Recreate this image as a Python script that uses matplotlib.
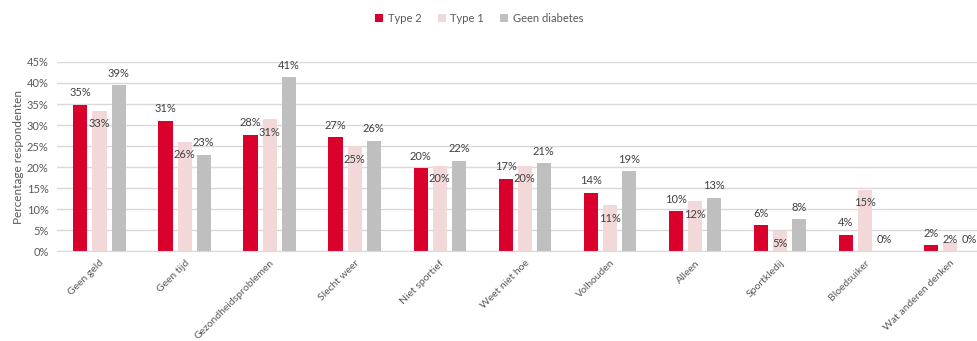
import matplotlib.pyplot as plt
import numpy as np
from matplotlib.ticker import FuncFormatter

categories = [
    "Geen geld", "Geen tijd", "Gezondheidsproblemen", "Slecht weer", "Niet sportief",
    "Weet niet hoe", "Volhouden", "Alleen", "Sportkledij", "Bloedsuiker",
    "Wat anderen denken",
]
type2 = [34.8, 31.0, 27.7, 27.1, 19.8, 17.3, 13.9, 9.6, 6.2, 4.0, 1.5]
type1 = [33.4, 26.1, 31.4, 25.0, 20.3, 20.3, 11.0, 11.9, 4.9, 14.7, 2.2]
geen = [39.4, 23.0, 41.4, 26.3, 21.5, 21.0, 19.0, 12.7, 7.6, 0.0, 0.0]

RED = "#d9002b"
PINK = "#f2d8d9"
GREY = "#bfbfbf"
TXT = "#595959"

plt.rcParams["font.family"] = ["Lato", "DejaVu Sans"]

fig = plt.figure(figsize=(9.78, 3.41), dpi=100)
ax = fig.add_axes([0.0583, 0.2625, 1.0 - 0.0583, 0.556])

x = np.arange(len(categories))
w = 0.166
step = 0.225
series = [("Type 2", type2, RED), ("Type 1", type1, PINK), ("Geen diabetes", geen, GREY)]
for i, (name, vals, col) in enumerate(series):
    pos = x + (i - 1) * step
    ax.bar(pos, vals, width=w, color=col, label=name, zorder=2)
    for px, v in zip(pos, vals):
        lbl = f"{v:.0f}%"
        # type 1 labels sit just inside the bar top, the others above it
        if name == "Type 1":
            dy = -13 if v > 4 else 3
        else:
            dy = 12
        ax.annotate(lbl, (px, v), xytext=(0, dy), textcoords="offset pixels",
                    ha="center", va="center", fontsize=8, color="#404040")

ax.set_ylim(0, 45)
ax.set_yticks(np.arange(0, 46, 5))
ax.yaxis.set_major_formatter(FuncFormatter(lambda v, p: f"{v:.0f}%"))
ax.set_xlim(-0.5, 10.33)
ax.set_xticks(x)
ax.set_xticklabels(categories, rotation=45, ha="right", va="top",
                   rotation_mode="anchor", fontsize=7.5, color=TXT)
ax.tick_params(axis="y", length=0, labelsize=8, labelcolor=TXT, pad=6)
ax.tick_params(axis="x", length=0, pad=5)
ax.grid(axis="y", color="#d9d9d9", linewidth=1, zorder=0)
for s in ["top", "right", "left"]:
    ax.spines[s].set_visible(False)
ax.spines["bottom"].set_color("#d9d9d9")
ax.set_ylabel("Percentage respondenten", fontsize=8.5, color=TXT, labelpad=2)

fig.legend(loc="center", bbox_to_anchor=(0.49, 0.945), ncol=3, frameon=False,
           fontsize=8, handlelength=0.7, handleheight=0.7, handletextpad=0.4,
           columnspacing=1.5, labelcolor=TXT)

fig.savefig("out.png", dpi=100)
